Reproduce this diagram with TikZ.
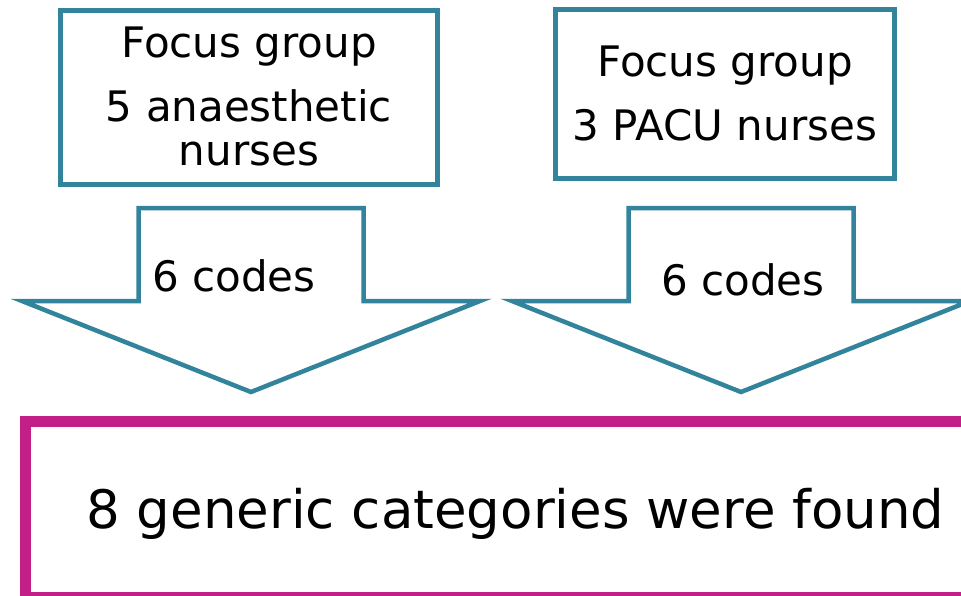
\documentclass[tikz,border=0pt]{standalone}
\usepackage{fontspec}
\setmainfont{DejaVu Sans}
\definecolor{groupteal}{RGB}{49,132,155}
\definecolor{resultmagenta}{RGB}{194,31,136}

\begin{document}
\begin{tikzpicture}[x=1pt,y=-1pt,
    boxtext/.style={anchor=base,inner sep=0pt,font=\fontsize{42}{44}\selectfont},
    bigtext/.style={anchor=base,inner sep=0pt,font=\fontsize{53}{58}\selectfont}]
    \useasboundingbox (0,0) rectangle (961,595);

    % Focus group 1
    \draw[groupteal,line width=5pt] (60.5,10) rectangle (437.5,184);
    \node[boxtext] (fgA) at (249,57) {Focus group};
    \node[boxtext] (nurA) at (249,121) {5 anaesthetic};
    \node[boxtext] (nurAb) at (249,165) {nurses};

    % Focus group 2
    \draw[groupteal,line width=5pt] (555.5,9.5) rectangle (894.5,178.5);
    \node[boxtext] (fgB) at (725,76) {Focus group};
    \node[boxtext] (nurB) at (725,140) {3 PACU nurses};

    % Pfeile
    \draw[groupteal,line width=4.5pt,fill=white] (138.5,208) -- (363.5,208) -- (363.5,301)
        -- (480,301) -- (251,392) -- (22,301) -- (138.5,301) -- cycle;
    \node[boxtext] (codA) at (234,291) {6 codes};

    \draw[groupteal,line width=4.5pt,fill=white] (628.5,208) -- (853.5,208) -- (853.5,301)
        -- (970,301) -- (741,392) -- (512,301) -- (628.5,301) -- cycle;
    \node[boxtext] (codB) at (743,295) {6 codes};

    % Resultado
    \draw[resultmagenta,line width=11pt] (25.5,421.5) rectangle (1000,597);
    \node[bigtext] (cat) at (515.5,528) {8 generic categories were found};
\end{tikzpicture}
\end{document}
